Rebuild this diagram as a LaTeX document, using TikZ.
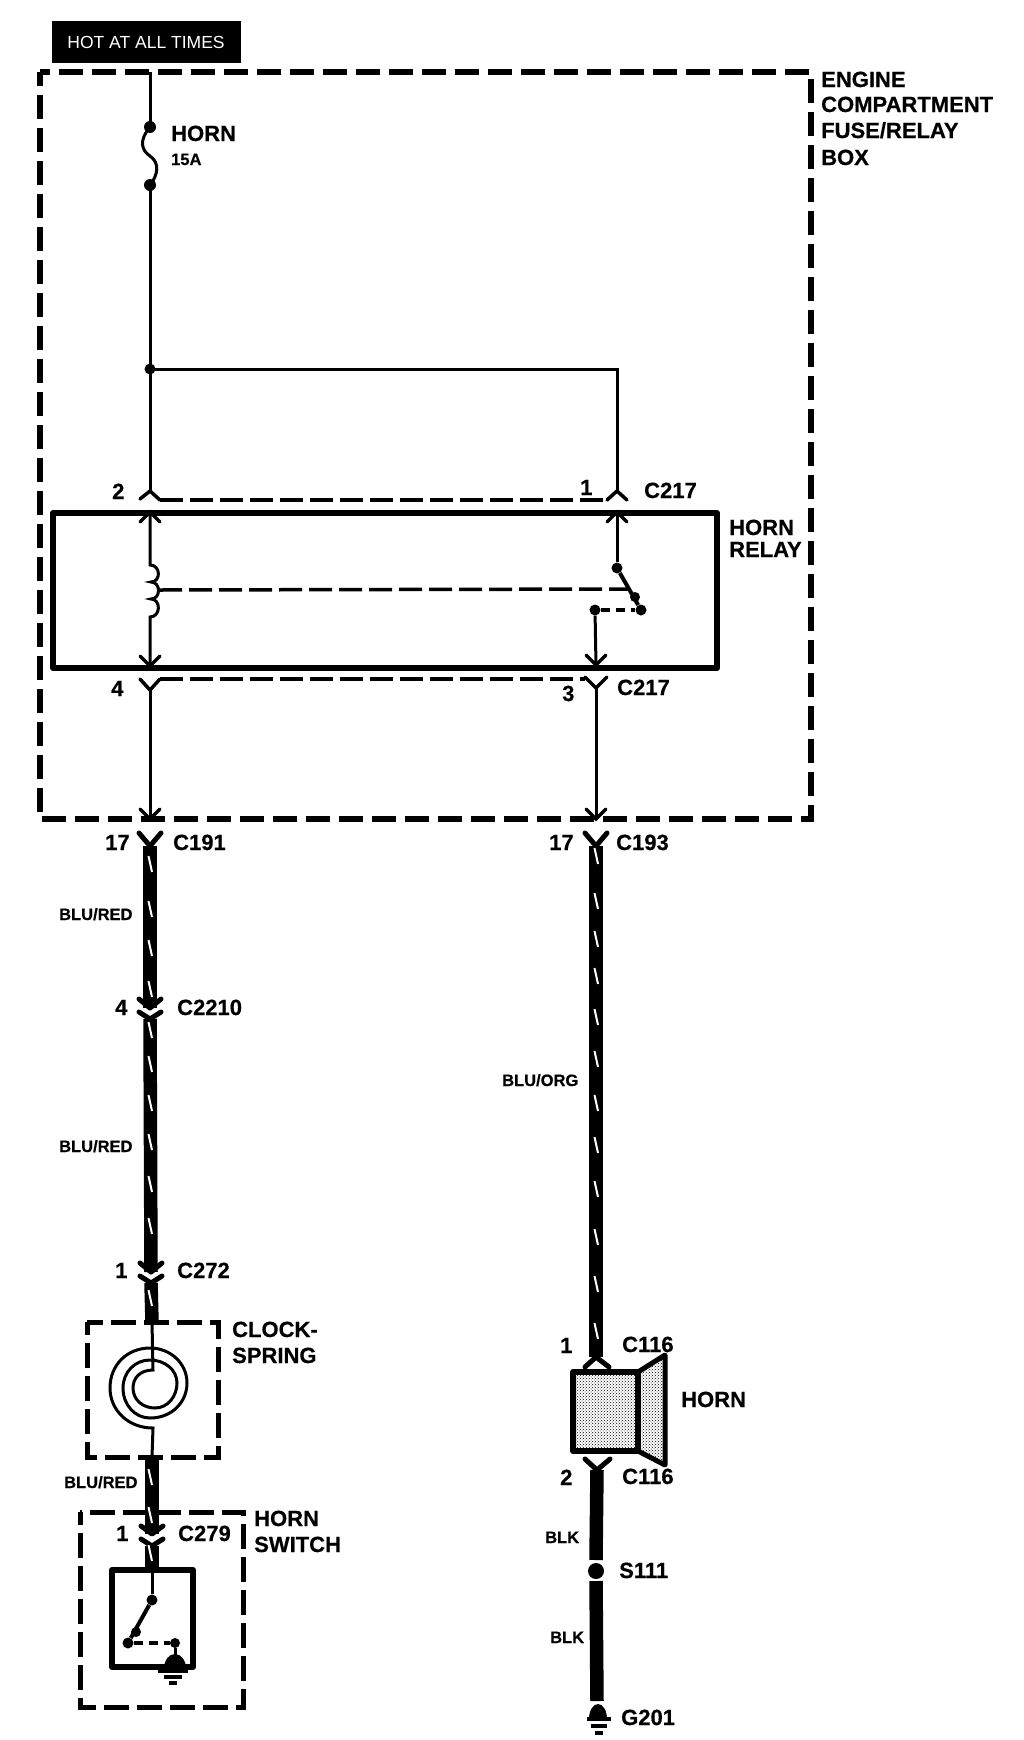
\documentclass[tikz,border=0pt]{standalone}
\usepackage{fontspec}
\setmainfont[BoldFeatures={FakeBold=0.5}]{Liberation Sans}
\usetikzlibrary{patterns}
\tikzset{
  lab/.style={font=\bfseries\fontsize{22}{24}\selectfont,inner sep=0pt,anchor=base west},
  wirelab/.style={font=\bfseries\fontsize{16.5}{18}\selectfont,inner sep=0pt,anchor=base west},
  wire/.style={line width=3pt},
  thickwire/.style={line width=13.5pt},
  slash/.style={white,line width=2pt},
  chev/.style={line width=3.5pt,line cap=round,line join=miter},
  chevb/.style={line width=5pt,line cap=round,line join=round},
  boxdash/.style={line width=5.5pt,dash pattern=on 24pt off 9pt,dash phase=10pt},
  smalldash/.style={line width=5pt,dash pattern=on 25pt off 8pt,dash phase=12pt},
  ctrl/.style={line width=3.5pt,dash pattern=on 23pt off 7pt},
  solidbox/.style={line width=6pt,line join=round},
  dotn/.style={circle,fill=black,inner sep=0pt,minimum size=#1},
  gbar/.style={line width=3.5pt}
}
\newcommand{\slashes}[2]{\foreach \yy in {#2}{\draw[slash] (#1-1.5,\yy-8) -- (#1+2,\yy+8);}}
\newcommand{\arrowv}[1]{\draw[chev] ([shift={(-10,-10)}]#1) -- (#1) -- ([shift={(10,-10)}]#1);}
\newcommand{\arrowup}[1]{\draw[chev] ([shift={(-10,10)}]#1) -- (#1) -- ([shift={(10,10)}]#1);}
\begin{document}
\begin{tikzpicture}[x=1pt,y=-1pt]
\useasboundingbox (0,0) rectangle (1024,1740);
\fill[white] (0,0) rectangle (1024,1740);
% hot bar
\node[fill=black,text=white,minimum width=189pt,minimum height=42pt,inner sep=0pt,font=\fontsize{17.5}{20}\selectfont] (hot) at (146,42) {HOT AT ALL TIMES};
% outer box
\draw[boxdash] (40,72) rectangle (811,819);
\node[lab] (t1) at (821,87) {ENGINE};
\node[lab] (t2) at (821,112) {COMPARTMENT};
\node[lab] (t3) at (821,138) {FUSE/RELAY};
\node[lab] (t4) at (821,165) {BOX};
% named points
\coordinate (top) at (150,72);
\coordinate (f1) at (150,127);
\coordinate (f2) at (150,185);
\coordinate (j) at (150,369);
\coordinate (jr) at (617,369);
\coordinate (c2) at (150,491);
\coordinate (c1) at (617,491);
\coordinate (r2) at (150,512);
\coordinate (r1) at (617,512);
\coordinate (r4) at (150,666);
\coordinate (r3) at (596,665);
\coordinate (c4) at (150,690);
\coordinate (c3) at (596,688);
\coordinate (b1) at (150,819);
\coordinate (b2) at (596,819);
% fuse and top wire
\draw[wire] (top) -- (f1);
\draw[wire] (f1) .. controls (139,140) and (141,150) .. (150,156) .. controls (160,163) and (158,175) .. (f2);
\node[dotn=12pt] (fd1) at (f1) {};
\node[dotn=12pt] (fd2) at (f2) {};
\draw[wire] (f2) -- (j) -- (c2);
\draw[wire] (j) -- (jr) -- (c1);
\node[dotn=11pt] (jd) at (j) {};
\node[lab] (h) at (171,141) {HORN};
\node[wirelab] (a) at (171,165) {15A};
% upper connector
\draw[chev] (140,499) -- (c2) -- (160,500);
\draw[chev] (607,500) -- (c1) -- (627,500);
\draw[ctrl] (160,500) -- (607,500);
\node[lab] (n2) at (112,499) {2};
\node[lab] (n1) at (580,495) {1};
\node[lab] (c217a) at (644,498) {C217};
% relay box
\draw[solidbox] (53,513) rectangle (717,668);
\node[lab] (hr1) at (729,535) {HORN};
\node[lab] (hr2) at (729,557) {RELAY};
% relay internals
\arrowup{r2}
\arrowup{r1}
\arrowv{r4}
\arrowv{r3}
\coordinate (coilT) at (150,565);
\coordinate (coilB) at (150,617);
\draw[wire] (r2) -- (coilT) .. controls (161,565) and (161,582) .. (151,582) .. controls (161,582) and (161,599) .. (151,599) .. controls (161,599) and (161,617) .. (coilB) -- (r4);
\coordinate (coilM) at (159,590);
\coordinate (blade) at (628,589);
\draw[ctrl] (coilM) -- (blade);
\node[dotn=11pt] (s1) at (617,568) {};
\node[dotn=10pt] (s2) at (635,597) {};
\node[dotn=11pt] (s3) at (641,610) {};
\node[dotn=11pt] (s4) at (595,610) {};
\draw[wire] (r1) -- (s1);
\draw[line width=4pt] (s1) -- (s3);
\draw[line width=4.5pt,dash pattern=on 9pt off 6pt] (s4) -- (s3);
\draw[wire] (s4) -- (r3);
% lower connector
\draw[chev] (140,679) -- (c4) -- (160,679);
\draw[chev] (585,677) -- (c3) -- (607,677);
\draw[ctrl] (160,679) -- (585,679);
\node[lab] (n4) at (111,696) {4};
\node[lab] (n3) at (562,701) {3};
\node[lab] (c217b) at (617,695) {C217};
\draw[wire] (c4) -- (b1);
\draw[wire] (c3) -- (b2);
\arrowv{b1}
\arrowv{b2}
% left harness
\coordinate (y1) at (150,846);
\coordinate (a2) at (150,1008);
\coordinate (y2) at (150,1019);
\coordinate (a3) at (151,1272);
\coordinate (y3) at (151,1283);
\coordinate (cbT) at (152,1322);
\coordinate (cbB) at (152,1457);
\coordinate (a4) at (152,1534);
\coordinate (y4) at (152,1546);
\coordinate (swT) at (152,1570);
\draw[thickwire] (y1) -- (a2);
\draw[thickwire] (y2) -- (a3);
\draw[thickwire] (y3) -- (cbT);
\draw[thickwire] (cbB) -- (a4);
\draw[thickwire] (y4) -- (swT);
\draw[chevb] (139,833) -- (y1) -- (161,833);
\draw[chevb] (139,999) -- (a2) -- (161,999);
\draw[chevb] (139,1012) -- (y2) -- (161,1012);
\draw[chevb] (140,1263) -- (a3) -- (162,1263);
\draw[chevb] (140,1276) -- (y3) -- (162,1276);
\draw[chevb] (141,1526) -- (a4) -- (163,1526);
\draw[chevb] (141,1539) -- (y4) -- (163,1539);
\slashes{150}{864,909,948,989,1030,1064,1103,1142,1184,1226,1298,1477,1515,1553}
\node[lab] (n17a) at (105,850) {17};
\node[lab] (c191) at (173,850) {C191};
\node[wirelab] (br1) at (59,920) {BLU/RED};
\node[lab] (n4b) at (115,1015) {4};
\node[lab] (c2210) at (177,1015) {C2210};
\node[wirelab] (br2) at (59,1152) {BLU/RED};
\node[lab] (n1b) at (115,1278) {1};
\node[lab] (c272) at (177,1278) {C272};
% clockspring
\draw[smalldash] (87,1322) rectangle (218,1457);
\node[lab] (cl1) at (232,1337) {CLOCK-};
\node[lab] (cl2) at (232,1363) {SPRING};
\draw[wire] (cbT) -- (153,1370) .. controls (140,1370) and (133,1378) .. (133,1388)
  .. controls (133,1400) and (143,1408) .. (155,1408)
  .. controls (168,1408) and (177,1396) .. (177,1383)
  .. controls (177,1370) and (165,1360) .. (150,1360)
  .. controls (135,1360) and (123,1372) .. (123,1388)
  .. controls (123,1405) and (135,1418) .. (150,1418)
  .. controls (172,1418) and (187,1402) .. (187,1383)
  .. controls (187,1363) and (170,1348) .. (150,1348)
  .. controls (127,1348) and (110,1365) .. (110,1388)
  .. controls (110,1410) and (128,1428) .. (153,1428) -- (cbB);
\node[wirelab] (br3) at (64,1488) {BLU/RED};
% horn switch
\draw[smalldash] (80,1512) rectangle (243,1707);
\node[lab] (hs1) at (254,1526) {HORN};
\node[lab] (hs2) at (254,1552) {SWITCH};
\node[lab] (n1c) at (116,1541) {1};
\node[lab] (c279) at (178,1541) {C279};
\draw[solidbox] (112,1570) rectangle (193,1667);
\node[dotn=11pt] (w1) at (152,1600) {};
\node[dotn=10pt] (w2) at (136,1632) {};
\node[dotn=11pt] (w3) at (128,1643) {};
\node[dotn=10pt] (w4) at (175,1643) {};
\coordinate (gs) at (175,1664);
\draw[wire] (swT) -- (w1);
\draw[line width=4pt] (w1) -- (w3);
\draw[line width=4.5pt,dash pattern=on 9pt off 6pt] (w3) -- (w4);
\draw[wire] (w4) -- (gs);
\fill (gs) ++(-11,4) arc[start angle=180,end angle=360,x radius=11,y radius=14] -- cycle;
\draw[gbar] (158,1671) -- (188,1671);
\draw[gbar] (164,1677) -- (182,1677);
\draw[gbar] (169,1683) -- (177,1683);
% right harness
\coordinate (yr1) at (596,846);
\coordinate (ar1) at (596,1357);
\coordinate (yr2) at (597,1470);
\coordinate (sp) at (596,1571);
\coordinate (gnd) at (597,1701);
\draw[thickwire] (yr1) -- (ar1);
\draw[chevb] (585,833) -- (yr1) -- (607,833);
\draw[chevb] (585,1367) -- (ar1) -- (609,1367);
\slashes{596}{856,901,939,976,1017,1059,1103,1145,1189,1237,1284,1331}
\node[lab] (n17b) at (549,850) {17};
\node[lab] (c193) at (616,850) {C193};
\node[wirelab] (bo) at (502,1086) {BLU/ORG};
\node[lab] (n1d) at (560,1353) {1};
\node[lab] (c116a) at (622,1352) {C116};
% horn
\draw[line width=5pt,line join=round,pattern=crosshatch dots] (638,1372) -- (665,1355) -- (665,1465) -- (638,1451) -- cycle;
\draw[line width=5.5pt,line join=round,pattern=crosshatch dots] (573,1372) rectangle (638,1451);
\node[lab] (hrn) at (681,1407) {HORN};
\node[lab] (n2d) at (560,1485) {2};
\node[lab] (c116b) at (622,1484) {C116};
\draw[chevb] (585,1459) -- (yr2) -- (610,1459);
\draw[thickwire] (yr2) -- (596,1560);
\node[dotn=16pt] (spd) at (sp) {};
\draw[thickwire] (596,1581) -- (gnd);
\node[lab] (s111) at (619,1578) {S111};
\node[wirelab] (bk1) at (545,1543) {BLK};
\node[wirelab] (bk2) at (550,1643) {BLK};
% ground
\coordinate (gb) at (598,1719);
\fill (gb) ++(-9,0) arc[start angle=180,end angle=360,x radius=9,y radius=15] -- cycle;
\draw[gbar] (587,1719) -- (611,1719);
\draw[gbar] (591,1726) -- (607,1726);
\draw[gbar] (595,1733) -- (603,1733);
\node[lab] (g201) at (621,1725) {G201};
\end{tikzpicture}
\end{document}
